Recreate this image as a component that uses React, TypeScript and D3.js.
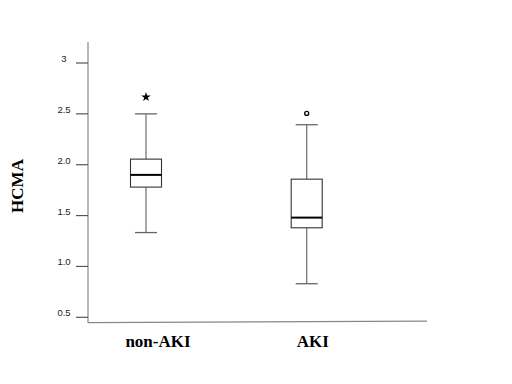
import React from "react";
import * as d3 from "d3";

const categories = ["non-AKI", "AKI"];
const whiskerLow = [1.333, 0.83];
const q1 = [1.78, 1.38];
const median = [1.9, 1.48];
const q3 = [2.055, 1.858];
const whiskerHigh = [2.5, 2.393];
const outliers = [2.665, 2.504];
const outlierShape = ["star", "circle"];
const yTicks = [0.5, 1.0, 1.5, 2.0, 2.5, 3];
const yTickLabels = ["0.5", "1.0", "1.5", "2.0", "2.5", "3"];

export default function App() {
  const y = d3.scaleLinear().domain([0.5, 3]).range([317.3, 63]);
  const x = d3.scalePoint<string>().domain(categories).range([146, 306.7]);
  const boxW = 31;
  const capW = 22;
  const starPath = d3.symbol().type(d3.symbolStar).size(28)() as string;
  const labelOffset = [12, 6];

  return (
    <svg
      width={512}
      height={384}
      style={{ position: "absolute", left: 0, top: 0, background: "#fff" }}
    >
      {/* axes */}
      <line x1={88} y1={42} x2={88} y2={323} stroke="#888" strokeWidth={1.2} />
      <line x1={88} y1={322.7} x2={427} y2={321.2} stroke="#888" strokeWidth={1.2} />
      {yTicks.map((t, i) => (
        <g key={i}>
          <line x1={76} x2={88} y1={y(t)} y2={y(t)} stroke="#555" strokeWidth={1.2} />
          <text
            x={64}
            y={y(t) - 1}
            textAnchor="middle"
            fontFamily="Liberation Sans, Arial, sans-serif"
            fontSize={9.5}
            fill="#222"
          >
            {yTickLabels[i]}
          </text>
        </g>
      ))}
      <text
        transform="translate(23,186) rotate(-90)"
        textAnchor="middle"
        fontFamily="Liberation Serif, Times New Roman, serif"
        fontWeight="bold"
        fontSize={17}
        fill="#000"
      >
        HCMA
      </text>
      {categories.map((c, i) => {
        const cx = x(c) as number;
        return (
          <g key={c}>
            <line x1={cx} x2={cx} y1={y(whiskerHigh[i])} y2={y(q3[i])} stroke="#777" strokeWidth={1.3} />
            <line x1={cx} x2={cx} y1={y(q1[i])} y2={y(whiskerLow[i])} stroke="#777" strokeWidth={1.3} />
            <line x1={cx - capW / 2} x2={cx + capW / 2} y1={y(whiskerHigh[i])} y2={y(whiskerHigh[i])} stroke="#666" strokeWidth={1.3} />
            <line x1={cx - capW / 2} x2={cx + capW / 2} y1={y(whiskerLow[i])} y2={y(whiskerLow[i])} stroke="#666" strokeWidth={1.3} />
            <rect
              x={cx - boxW / 2}
              y={y(q3[i])}
              width={boxW}
              height={y(q1[i]) - y(q3[i])}
              fill="#fff"
              stroke="#333"
              strokeWidth={1.1}
            />
            <line x1={cx - boxW / 2} x2={cx + boxW / 2} y1={y(median[i])} y2={y(median[i])} stroke="#000" strokeWidth={2} />
            {outlierShape[i] === "star" ? (
              <path d={starPath} transform={`translate(${cx},${y(outliers[i])})`} fill="#000" />
            ) : (
              <circle cx={cx} cy={y(outliers[i])} r={2} fill="#fff" stroke="#000" strokeWidth={1.3} />
            )}
            <text
              x={cx + labelOffset[i]}
              y={346.5}
              textAnchor="middle"
              fontFamily="Liberation Serif, Times New Roman, serif"
              fontWeight="bold"
              fontSize={17}
              fill="#000"
            >
              {c}
            </text>
          </g>
        );
      })}
    </svg>
  );
}
